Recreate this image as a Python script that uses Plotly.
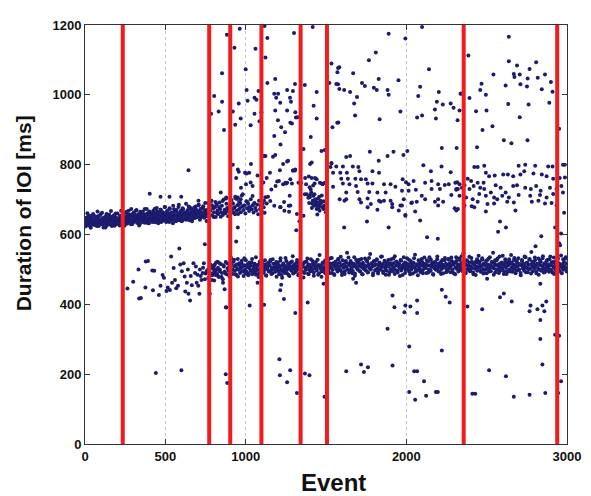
import plotly.graph_objects as go

# event positions of the red markers (segment boundaries)
boundaries = [235, 773, 904, 1098, 1342, 1506, 2357, 2939]

# early upper band (~640-665 ms)
band_a = [(3,642),(6,631),(10,648),(13,637),(17,626),(20,652),(24,640),(27,633),(31,645),(34,622),
          (38,638),(41,650),(45,629),(48,643),(52,636),(55,655),(59,627),(62,641),(66,634),(69,647),
          (73,624),(76,639),(80,652),(83,632),(87,644),(90,628),(94,637),(97,658),(101,641),(104,630),
          (108,646),(111,635),(115,620),(118,649),(122,638),(125,643),(129,631),(132,654),(136,626),(139,640),
          (143,647),(146,634),(150,657),(153,629),(157,643),(160,637),(164,650),(167,624),(171,641),(174,646),
          (178,632),(181,655),(185,638),(188,628),(192,649),(195,642),(199,634),(202,660),(206,631),(209,645),
          (213,639),(216,626),(220,652),(223,643),(227,636),(230,648),(234,658),(237,640),(241,651),(244,633),
          (248,646),(251,662),(255,639),(258,649),(262,631),(265,655),(269,643),(272,668),(276,637),(279,650),
          (283,644),(286,629),(290,657),(293,641),(297,652),(300,635),(304,663),(307,646),(311,638),(314,655),
          (318,642),(321,670),(325,633),(328,649),(332,658),(335,640),(339,647),(342,631),(346,661),(349,652),
          (353,644),(356,637),(360,666),(363,649),(367,640),(370,656),(374,634),(377,651),(381,645),(384,673),
          (388,639),(391,658),(395,647),(398,632),(402,654),(405,664),(409,642),(412,650),(416,637),(419,659),
          (423,646),(426,669),(430,641),(433,653),(437,635),(440,660),(444,648),(447,676),(451,643),(454,655),
          (458,638),(461,664),(465,650),(468,645),(472,671),(475,636),(479,657),(482,648),(486,662),(489,640),
          (493,653),(496,679),(500,646),(503,658),(507,639),(510,667),(514,651),(517,644),(521,660),(524,636),
          (528,673),(531,654),(535,647),(538,663),(542,641),(545,656),(549,682),(552,650),(556,643),(559,665),
          (563,655),(566,638),(570,670),(573,652),(577,646),(580,661),(584,685),(587,649),(591,657),(594,640),
          (598,668),(601,654),(605,646),(608,675),(612,660),(615,643),(619,656),(622,664),(626,648),(629,688),
          (633,659),(636,645),(640,670),(643,652),(647,661),(650,641),(654,677),(657,656),(661,649),(664,666),
          (668,644),(671,658),(675,672),(678,651),(682,663),(685,647),(689,680),(692,655),(696,669),(699,650),
          (703,661),(706,684),(710,653),(713,667),(717,648),(720,674),(724,658),(727,663),(731,651),(734,678),
          (738,660),(741,654),(745,670),(748,690),(752,657),(755,665),(759,652),
          (644,784),(470,708),(403,717),(526,708),(599,708)]

# further events inside the same band
band_a_fill = [(1,623),(8,646),(15,661),(22,632),(29,654),(36,619),(43,643),(50,659),(57,630),(64,651),
               (71,638),(78,666),(85,624),(92,654),(99,636),(106,662),(113,629),(120,648),(127,620),(134,659),
               (141,642),(148,654),(155,629),(162,667),(169,639),(176,653),(183,625),(190,660),(197,646),(204,635),
               (211,629),(218,653),(225,668),(232,638),(239,660),(246,625),(253,650),(260,665),(267,636),(274,657),
               (281,644),(288,673),(295,630),(302,660),(309,642),(316,668),(323,636),(330,654),(337,626),(344,665),
               (351,649),(358,661),(365,635),(372,673),(379,645),(386,660),(393,632),(400,666),(407,652),(414,641),
               (421,636),(428,659),(435,674),(442,644),(449,666),(456,632),(463,656),(470,671),(477,642),(484,664),
               (491,651),(498,679),(505,636),(512,666),(519,649),(526,675),(533,642),(540,660),(547,632),(554,672),
               (561,655),(568,667),(575,641),(582,679),(589,652),(596,666),(603,638),(610,672),(617,659),(624,648),
               (631,642),(638,665),(645,680),(652,651),(659,673),(666,638),(673,662),(680,677),(687,649),(694,670),
               (701,657),(708,685),(715,642),(722,673),(729,655),(736,681),(743,648),(750,666),(757,639)]

# upper band after the split (~650-710 ms)
band_a2 = [(765,672),(770,660),(776,681),(781,668),(787,697),(792,655),(798,675),(803,664),(808,678),(814,650),
           (819,686),(825,669),(830,659),(836,692),(841,673),(847,664),(852,682),(858,656),(863,700),(869,671),
           (874,661),(880,688),(885,676),(891,652),(896,666),(903,683),(908,695),(914,670),(920,689),(925,662),
           (931,678),(937,704),(942,668),(948,684),(953,659),(959,693),(965,676),(970,664),(976,712),(981,681),
           (987,670),(992,683),(998,660),(1004,695),(1009,675),(1015,688),(1021,667),(1026,678),(1032,701),(1038,672),
           (1043,684),(1049,663),(1055,690),(1060,676),(1066,669),(1072,685),(1078,658),(1083,697),(1089,673),(1094,683),
           (1100,666),(1106,689),(1112,678),(1118,662),
           (767,690),(779,655),(790,684),(801,650),(812,693),(823,660),(834,679),(845,651),(856,696),(867,663),
           (878,703),(889,668),(900,654),(912,699),(923,675),(934,658),(945,702),(956,671),(967,690)]

# early lower scatter (~400-560 ms)
lower_early = [(264,445),(300,465),(333,500),(337,417),(348,418),(376,448),(378,523),(392,524),(419,497),(423,440),
               (431,496),(460,427),(470,453),(483,484),(491,476),(507,438),(515,448),(528,441),(536,537),(542,462),
               (552,504),(560,470),(568,446),(579,453),(587,560),(593,514),(603,495),(614,518),(620,480),(624,437),
               (634,462),(640,500),(644,430),(654,411),(658,481),(665,455),(675,518),(685,490),(690,508),(695,462),
               (700,485),(705,453),(712,430),(715,500),(720,481),(725,470),(732,490),(735,505),(740,518),(746,472),
               (746,572),(750,488),(757,495),(777,430),(787,505),(798,490),(808,514),(818,500),(828,481),(838,518),
               (859,462),(869,443),(879,391),(900,509),(910,533),(941,580)]

# main lower band (~505 ms)
band_b = [(762,498),(768,476),(774,507),(780,489),(786,512),(792,483),(798,501),(804,468),(810,495),(816,520),
          (822,487),(828,505),(834,478),(840,499),(846,515),(852,490),(858,472),(864,508),(870,494),(876,521),
          (882,486),(888,503),(894,497),(899,480),
          (902,506),(906,492),(911,515),(915,500),(920,487),(924,522),(929,509),(933,496),(938,511),(942,484),
          (947,502),(951,530),(956,499),(960,513),(965,490),(969,505),(974,518),(978,495),(983,508),(987,481),
          (992,512),(996,500),(1001,526),(1005,494),(1010,507),(1014,516),(1019,489),(1023,503),(1028,511),(1032,497),
          (1037,520),(1041,486),(1046,509),(1050,501),(1055,514),(1059,493),(1064,535),(1068,505),(1073,498),(1077,512),
          (1082,488),(1086,517),(1091,502),(1095,495),(1100,510),(1104,524),(1109,491),(1113,506),(1118,499),(1122,515),
          (1127,483),(1131,508),(1136,501),(1140,519),(1145,494),(1149,511),(1154,527),(1158,497),(1163,505),(1167,489),
          (1172,516),(1176,502),(1181,509),(1185,493),(1190,521),(1194,504),(1199,498),(1203,513),(1208,486),(1212,507),
          (1217,532),(1221,500),(1226,512),(1230,495),(1235,517),(1239,503),(1244,490),(1248,510),(1253,524),(1257,499),
          (1262,506),(1266,485),(1271,514),(1275,502),(1280,520),(1284,496),(1289,508),(1293,538),(1298,501),(1302,513),
          (1307,492),(1311,506),(1316,519),(1320,498),(1325,510),(1329,487),(1334,504),(1338,526),(1343,500),(1347,513),
          (1352,494),(1356,508),(1361,518),(1365,490),(1370,505),(1374,499),(1379,522),(1383,509),(1388,488),(1392,514),
          (1397,502),(1401,496),(1406,529),(1410,507),(1415,500),(1419,516),(1424,491),(1428,511),(1433,503),(1437,521),
          (1442,497),(1446,508),(1451,485),(1455,513),(1460,541),(1464,502),(1469,510),(1473,494),(1478,518),(1482,506),
          (1487,499),(1491,523),(1496,489),(1500,512),
          (1505,504),(1509,525),(1514,497),(1518,512),(1523,490),(1527,517),(1532,506),(1536,533),(1541,499),(1545,514),
          (1550,487),(1554,509),(1559,522),(1563,501),(1568,515),(1572,494),(1577,530),(1581,507),(1586,519),(1590,498),
          (1595,511),(1599,484),(1604,526),(1608,505),(1613,513),(1617,495),(1622,520),(1626,508),(1631,548),(1635,500),
          (1640,516),(1644,491),(1649,511),(1653,524),(1658,503),(1662,517),(1667,496),(1671,509),(1676,535),(1680,488),
          (1685,513),(1689,505),(1694,521),(1698,499),(1703,510),(1707,528),(1712,494),(1716,515),(1721,507),(1725,486),
          (1730,519),(1734,502),(1739,512),(1743,531),(1748,497),(1752,509),(1757,522),(1761,492),(1766,514),(1770,504),
          (1775,544),(1779,500),(1784,517),(1788,508),(1793,489),(1797,523),(1802,511),(1806,498),(1811,515),(1815,527),
          (1820,503),(1824,493),(1829,512),(1833,520),(1838,499),(1842,536),(1847,507),(1851,515),(1856,490),(1860,510),
          (1865,525),(1869,502),(1874,513),(1878,496),(1883,519),(1887,508),(1892,485),(1896,516),(1901,501),(1905,529),
          (1910,511),(1914,495),(1919,518),(1923,505),(1928,538),(1932,498),(1937,512),(1941,522),(1946,491),(1950,509),
          (1955,516),(1959,503),(1964,527),(1968,497),(1973,510),(1977,484),(1982,514),(1986,506),(1991,520),(1995,499),
          (2000,511),(2004,532),(2009,502),(2013,515),(2018,493),(2022,508),(2027,524),(2031,500),(2036,513),(2040,488),
          (2045,519),(2049,507),(2054,542),(2058,501),(2063,514),(2067,496),(2072,510),(2076,526),(2081,503),(2085,517),
          (2090,492),(2094,511),(2099,521),(2103,498),(2108,509),(2112,534),(2117,505),(2121,515),(2126,490),(2130,512),
          (2135,523),(2139,500),(2144,511),(2148,496),(2153,528),(2157,507),(2162,516),(2166,487),(2171,513),(2175,503),
          (2180,520),(2184,499),(2189,510),(2193,537),(2198,504),(2202,517),(2207,494),(2211,509),(2216,522),(2220,501),
          (2225,514),(2229,489),(2234,511),(2238,526),(2243,505),(2247,516),
          (2252,498),(2256,512),(2261,530),(2265,503),(2270,517),(2274,492),(2279,511),(2283,524),(2288,500),(2292,514),
          (2297,488),(2301,519),(2306,506),(2310,535),(2315,501),(2319,515),(2324,494),(2328,510),(2333,527),(2337,504),
          (2342,518),(2346,497),(2351,512),(2355,546),(2360,502),(2364,516),(2369,490),(2373,513),(2378,525),(2382,499),
          (2387,511),(2391,520),(2396,495),(2400,509),(2405,533),(2409,504),(2414,517),(2418,486),(2423,513),(2427,502),
          (2432,522),(2436,508),(2441,496),(2445,519),(2450,539),(2454,505),(2459,514),(2463,493),(2468,510),(2472,528),
          (2477,501),(2481,516),(2486,498),(2490,512),(2495,524),(2499,489),(2504,515),(2508,506),(2513,531),(2517,500),
          (2522,513),(2526,495),(2531,521),(2535,508),(2540,548),(2544,503),(2549,517),(2553,491),(2558,511),(2562,526),
          (2567,499),(2571,514),(2576,505),(2580,537),(2585,496),(2589,512),(2594,520),(2598,502),(2603,515),(2607,487),
          (2612,510),(2616,529),(2621,504),(2625,518),(2630,494),(2634,512),(2639,523),(2643,500),(2648,516),(2652,541),
          (2657,506),(2661,493),(2666,514),(2670,527),(2675,502),(2679,511),(2684,496),(2688,520),(2693,508),(2697,532),
          (2702,499),(2706,515),(2711,490),(2715,512),(2720,524),(2724,503),(2729,517),(2733,497),(2738,510),(2742,535),
          (2747,505),(2751,519),(2756,492),(2760,513),(2765,528),(2769,501),(2774,514),(2778,550),(2783,507),(2787,495),
          (2792,518),(2796,503),(2801,526),(2805,511),(2810,489),(2814,516),(2819,504),(2823,531),(2828,499),(2832,513),
          (2837,521),(2841,496),(2846,510),(2850,538),(2855,502),(2859,517),(2864,493),(2868,512),(2873,525),(2877,500),
          (2882,515),(2886,507),(2891,529),(2895,498),(2900,513),(2904,520),(2909,491),(2913,509),(2918,534),(2922,504),
          (2927,516),(2931,497),(2936,512),(2940,527),(2945,502),(2949,518),(2954,495),(2958,511),(2963,540),(2967,506),
          (2972,515),(2976,499),(2981,521),(2985,508),(2990,531),(2994,503),(2998,517)]

# further events inside the lower band
band_b_fill = [(766,492),(778,515),(790,470),(802,508),(814,484),(826,522),(838,495),(850,478),(862,512),(874,488),
               (886,517),(896,501),
               (904,491),(912,522),(920,499),(928,528),(936,486),(944,514),(952,480),(960,518),(968,502),(976,525),
               (984,494),(992,532),(1000,488),(1008,510),(1016,483),(1024,520),(1032,497),(1040,530),(1048,492),(1056,516),
               (1064,485),(1072,512),(1080,478),(1088,523),(1096,499),(1104,516),(1112,491),(1120,526),(1128,482),(1136,508),
               (1144,495),(1152,522),(1160,487),(1168,529),(1176,501),(1184,514),(1192,479),(1200,520),(1208,493),(1216,525),
               (1224,484),(1232,511),(1240,498),(1248,533),(1256,490),(1264,517),(1272,481),(1280,506),(1288,523),(1296,488),
               (1304,514),(1312,496),(1320,527),(1328,483),(1336,518),(1344,492),(1352,509),(1360,477),(1368,521),(1376,500),
               (1384,531),(1392,486),(1400,513),(1408,495),(1416,524),(1424,482),(1432,516),(1440,503),(1448,528),(1456,489),
               (1464,510),(1472,479),(1480,519),(1488,494),(1496,526),
               (1504,495),(1512,526),(1520,503),(1528,532),(1536,490),(1544,518),(1552,484),(1560,522),(1568,506),(1576,529),
               (1584,498),(1592,536),(1600,492),(1608,514),(1616,487),(1624,524),(1632,501),(1640,534),(1648,496),(1656,520),
               (1664,489),(1672,516),(1680,482),(1688,527),(1696,503),(1704,520),(1712,495),(1720,530),(1728,486),(1736,512),
               (1744,499),(1752,526),(1760,491),(1768,533),(1776,505),(1784,518),(1792,483),(1800,524),(1808,497),(1816,529),
               (1824,488),(1832,515),(1840,502),(1848,537),(1856,494),(1864,521),(1872,485),(1880,510),(1888,527),(1896,492),
               (1904,518),(1912,500),(1920,531),(1928,487),(1936,522),(1944,496),(1952,513),(1960,481),(1968,525),(1976,504),
               (1984,535),(1992,490),(2000,517),(2008,499),(2016,528),(2024,486),(2032,520),(2040,507),(2048,532),(2056,493),
               (2064,514),(2072,483),(2080,523),(2088,498),(2096,530),(2104,489),(2112,516),(2120,504),(2128,526),(2136,491),
               (2144,535),(2152,496),(2160,519),(2168,485),(2176,521),(2184,501),(2192,529),(2200,494),(2208,512),(2216,487),
               (2224,527),(2232,506),(2240,533),(2248,492),
               (2256,497),(2264,528),(2272,505),(2280,534),(2288,492),(2296,520),(2304,486),(2312,524),(2320,508),(2328,531),
               (2336,500),(2344,538),(2352,494),(2360,516),(2368,489),(2376,526),(2384,503),(2392,536),(2400,498),(2408,522),
               (2416,491),(2424,518),(2432,484),(2440,529),(2448,506),(2456,523),(2464,496),(2472,532),(2480,488),(2488,514),
               (2496,501),(2504,527),(2512,493),(2520,535),(2528,507),(2536,520),(2544,485),(2552,526),(2560,499),(2568,531),
               (2576,490),(2584,517),(2592,504),(2600,539),(2608,495),(2616,523),(2624,487),(2632,512),(2640,529),(2648,494),
               (2656,520),(2664,502),(2672,533),(2680,489),(2688,524),(2696,498),(2704,515),(2712,483),(2720,527),(2728,506),
               (2736,537),(2744,492),(2752,519),(2760,501),(2768,530),(2776,488),(2784,522),(2792,509),(2800,534),(2808,495),
               (2816,516),(2824,485),(2832,525),(2840,500),(2848,532),(2856,491),(2864,518),(2872,506),(2880,528),(2888,493),
               (2896,537),(2904,498),(2912,521),(2920,487),(2928,523),(2936,503),(2944,531),(2952,496),(2960,514),(2968,489),
               (2976,529),(2984,508),(2992,535),(2998,494)]

# middle cluster (~650-830 ms)
mid_band = [(706,697),(787,697),(808,678),(845,720),(879,706),(920,689),(935,708),(951,706),(961,687),(992,683),
            (1022,678),(1053,689),(1094,683),(941,762),(971,734),(1002,744),(1043,739),(951,786),(996,777),(1022,777),
            (1033,802),(1114,697),(1131,689),(1139,708),(1160,729),(1186,739),(1207,753),(1233,744),(1248,748),(1278,758),
            (1278,683),(1217,678),(1241,668),(1131,762),(1151,777),(1213,784),(1114,825),(1170,823),(1233,802),
            (920,800),(957,780),(1006,775),(1074,769),(1031,749),(1110,749),(1196,752),(1252,746),(1288,746),(1393,766),
            (1429,746),(1472,746),(982,715),(969,701),(1012,693),(1043,710),(1123,707),(1153,696),(1178,682),(1215,679),
            (1239,693),(1270,665),(1368,715),(1399,707),(1423,696),(1442,682),(1460,668),(1484,673),(1123,825),(1184,828),
            (1264,811),(1294,783),(1307,783),(1411,806),(1534,803),(1258,809),(1295,783),(1309,786),(1258,748),(1329,748),
            (1344,748),(1370,762),(1376,744),(1401,802),(1411,762),(1432,762),(1442,758),(1462,748),(1479,744),(1493,748),
            (1380,715),(1401,713),(1421,711),(1432,701),(1438,689),(1446,685),(1452,692),(1462,682),(1466,697),(1479,678),
            (1458,708),(1417,697),(1425,682),(1442,673),(1405,729),(1268,682),(1274,711),(1319,659),(1335,638),(1360,654),
            (1446,657),(1499,664),(1390,705),(1395,690),(1408,720),(1414,688),(1428,715),(1436,695),(1450,703),(1455,676),
            (1470,690),(1474,712),(1486,695),(1490,683),(1412,676),(1398,735),(1420,740),
            (1534,805),(1528,793),(1564,795),(1605,795),(1667,795),(1701,793),(1544,777),(1589,777),(1630,777),(1708,781),
            (1789,781),(1830,777),(1595,760),(1636,760),(1683,760),(1718,758),(1748,758),(1544,737),(1605,746),(1646,744),
            (1687,739),(1759,746),(1789,746),(1861,744),(1902,744),(1932,737),(1977,758),(1998,750),(2014,744),(2045,753),
            (2106,798),(2153,781),(2219,795),(2276,778),(2117,748),(2157,753),(2198,744),(2239,742),(2264,744),(2305,748),
            (2321,730),(1626,720),(1697,722),(1769,722),(1820,720),(1871,720),(1973,725),(2014,725),(2059,728),(2157,730),
            (2209,730),(2311,728),(1585,701),(1626,701),(1708,701),(1759,703),(1830,697),(1861,697),(1902,697),(1984,701),
            (2035,692),(2096,711),(2117,701),(2198,701),(2280,713),(1615,697),(1718,692),(1779,687),(1840,694),(1912,687),
            (1963,683),(2031,690),(2065,694),(2178,694),(2229,694),(2301,675),(1759,678),(1820,671),(1912,678),(1973,683),
            (1994,656),(1953,669),(2198,683),(2311,669),(2055,666),
            (2423,793),(2444,793),(2485,797),(2699,797),(2740,800),(2802,797),(2883,795),(2910,795),(2986,800),(2317,750),
            (2331,744),(2362,741),(2382,760),(2403,753),(2444,748),(2481,748),(2495,777),(2515,767),(2550,769),(2603,772),
            (2632,772),(2665,767),(2710,772),(2734,781),(2791,775),(2843,772),(2873,767),(2914,760),(2955,762),(2311,730),
            (2346,734),(2393,730),(2419,739),(2460,734),(2485,730),(2526,720),(2556,741),(2587,734),(2618,720),(2665,739),
            (2689,741),(2740,734),(2775,730),(2808,739),(2836,725),(2894,734),(2935,730),(2965,739),(2331,711),(2372,706),
            (2413,701),(2454,716),(2495,711),(2546,706),(2597,711),(2638,706),(2699,713),(2771,711),(2832,713),(2873,706),
            (2914,716),(2975,720),(2362,683),(2407,681),(2444,694),(2505,687),(2546,689),(2566,701),(2628,694),(2669,692),
            (2781,694),(2822,697),(2863,689),(2904,690),(2935,683),(2321,673),(2423,678),(2495,666),(2679,669),(2987,763),
            (2975,800),(2982,662)]

# sparse long intervals (>820 ms)
high_scatter = [(963,1189),(883,1172),(930,1135),(853,1062),(1000,1073),(1061,1132),(1117,1197),(1135,1163),(1123,1107),
                (1301,1177),(1417,1194),(785,946),(853,980),(865,899),(920,952),(969,932),(957,975),(1006,1014),(1012,983),
                (1031,913),(1055,992),(1067,986),(1080,1011),(1086,924),(1055,946),(1135,1034),(1184,1045),(1178,1003),
                (1202,1003),(1190,992),(1215,977),(1184,955),(1258,1014),(1294,1011),(1276,992),(1307,1031),(1282,980),
                (1313,935),(1221,907),(1245,893),(1288,918),(1178,882),(1368,1028),(1442,1008),(1423,969),(1442,932),
                (1405,879),(1472,839),(1534,1090),(1521,1034),(1540,907),(832,952),(804,997),(1098,950),(1217,858),
                (1201,927),(935,914),(1258,955),(1309,950),(1323,936),(1278,920),(1360,845),(1575,1077),(1575,1030),
                (1570,920),(1493,842),
                (1890,1175),(1994,1161),(2098,1194),(1810,1121),(1767,1099),(1583,1079),(1571,1065),(1669,1062),(2141,1073),
                (1564,1031),(1583,1017),(1613,1014),(1650,1008),(1724,1034),(1742,1025),(1798,1020),(1816,1014),(1828,1045),
                (1883,1014),(1890,1000),(1951,1042),(2086,1023),(2074,997),(1693,994),(1675,975),(1681,941),(1577,921),
                (1834,930),(1963,952),(2067,935),(2098,941),(2202,1008),(2190,980),(2227,972),(2178,958),(2184,932),
                (2276,975),(2294,963),(2331,955),(2337,1003),(2319,927),(2221,848),(2313,848),(1773,837),(1626,822),
                (1650,825),(1828,811),(1883,825),(1920,837),(1982,828),(2006,839),
                (2638,1166),(2386,1113),(2638,1096),(2689,1084),(2542,1058),(2669,1060),(2673,1051),(2706,1058),(2767,1074),
                (2808,1093),(2818,1049),(2863,1058),(2755,1047),(2710,1030),(2751,1024),(2900,1037),(2468,1032),(2460,1014),
                (2618,1027),(2843,1016),(2910,1009),(2495,1000),(2341,1004),(2393,991),(2434,953),(2499,955),(2634,974),
                (2761,972),(2890,977),(2706,936),(2474,899),(2536,910),(2951,903),(2607,870),(2654,861),(2754,870),
                (2440,850)]

# short intervals and values between the two bands
low_outliers = [(441,203),(600,211),(876,200),(885,175),(877,392),(951,620),(1025,397),(1074,462),(1115,399),
                (1210,243),(1213,197),(1215,440),(1221,456),(1227,476),(1238,415),(1258,177),(1277,211),(1309,375),
                (1315,612),(1319,146),(1369,202),(1386,405),(1397,197),(1485,459),(1491,135),(1613,620),(1626,208),
                (1669,473),(1687,462),(1718,228),(1736,206),(1755,637),(1761,220),(1883,330),(1890,620),(1914,225),
                (1914,425),(1926,392),(1988,377),(1994,397),(1994,654),(2018,279),(2018,149),(2025,394),(2049,208),
                (2055,127),(2067,411),(2067,375),(2067,208),(2086,640),(2110,180),(2123,138),(2129,592),(2184,149),
                (2196,149),(2196,588),(2221,268),(2221,442),(2245,422),(2270,405),(2380,394),(2411,144),(2429,144),
                (2472,386),(2503,473),(2515,211),(2571,608),(2583,420),(2583,637),(2607,431),(2620,194),(2620,620),
                (2656,408),(2669,135),(2767,380),(2767,141),(2773,397),(2804,566),(2816,386),(2834,459),(2834,355),
                (2834,301),(2840,595),(2847,397),(2847,228),(2859,380),(2865,146),(2871,408),(2926,313),(2926,620),
                (2945,146),(2951,310),(2951,575),(2957,569),(2963,180),(2963,603)]

x_ticks = [0, 500, 1000, 2000, 3000]
y_ticks = [0, 200, 400, 600, 800, 1000, 1200]

points = (band_a + band_a_fill + band_a2 + lower_early + band_b + band_b_fill
          + mid_band + high_scatter + low_outliers)
xs = [p[0] for p in points]
ys = [p[1] for p in points]

fig = go.Figure()
fig.add_trace(go.Scatter(x=xs, y=ys, mode='markers',
                         marker=dict(color='#1c1c6e', size=4, line_width=0),
                         showlegend=False, hoverinfo='skip'))

# red vertical markers, drawn over the dots
for b in boundaries:
    fig.add_shape(type='line', x0=b, x1=b, y0=0, y1=1, xref='x', yref='paper',
                  line=dict(color='#f21c1c', width=4), layer='above')

font_ax = dict(family='Arial, Liberation Sans, sans-serif', size=13, color='#111111')
fig.update_xaxes(range=[0, 3000], tickvals=x_ticks, ticktext=[f'<b>{v}</b>' for v in x_ticks],
                 tickfont=font_ax, ticks='inside', ticklen=5, tickcolor='#333333',
                 showline=True, linecolor='#333333', linewidth=1, mirror='ticks',
                 showgrid=True, gridcolor='#c4c4c4', griddash='dot', gridwidth=1, zeroline=False)
fig.update_yaxes(range=[0, 1200], tickvals=y_ticks, ticktext=[f'<b>{v}</b>' for v in y_ticks],
                 tickfont=font_ax, ticks='inside', ticklen=5, tickcolor='#333333',
                 showline=True, linecolor='#333333', linewidth=1, mirror='ticks',
                 showgrid=False, zeroline=False)

fig.add_annotation(text='<b>Duration of IOI [ms]</b>', xref='paper', yref='paper',
                   x=-0.127, y=0.55, xanchor='center', yanchor='middle', textangle=-90,
                   showarrow=False,
                   font=dict(family='Arial, Liberation Sans, sans-serif', size=21, color='#111111'))
fig.add_annotation(text='<b>Event</b>', xref='paper', yref='paper',
                   x=0.515, y=-0.092, xanchor='center', yanchor='middle', showarrow=False,
                   font=dict(family='Arial, Liberation Sans, sans-serif', size=24, color='#111111'))

# the page adds an 8px body margin, so the figure is kept 8px smaller
fig.update_layout(width=583, height=488, margin=dict(l=77, r=17, t=10, b=52),
                  paper_bgcolor='white', plot_bgcolor='white')
fig.write_html("out.html")
